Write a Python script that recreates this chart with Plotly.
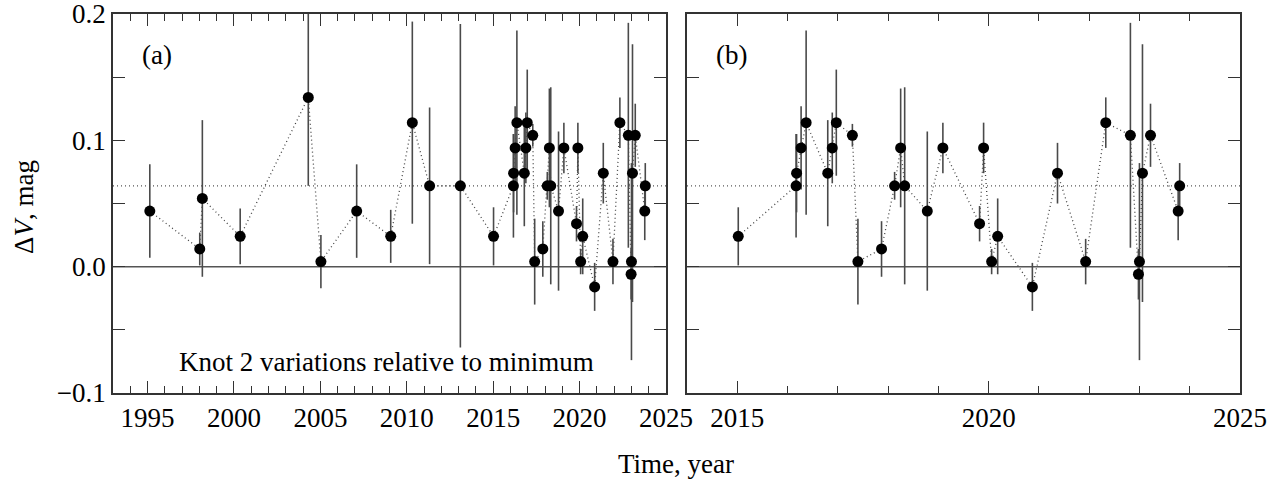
import numpy as np
import plotly.graph_objects as go
from plotly.subplots import make_subplots

# ---- data ----
years = [1995.13, 1998.02, 1998.17, 2000.36, 2004.30, 2005.03, 2007.10, 2009.07,
         2010.32, 2011.32, 2013.10, 2015.02, 2016.17, 2016.18, 2016.27, 2016.37,
         2016.80, 2016.89, 2016.97, 2017.29, 2017.40, 2017.87, 2018.13, 2018.25,
         2018.33, 2018.78, 2019.09, 2019.82, 2019.90, 2020.06, 2020.18, 2020.87,
         2021.37, 2021.93, 2022.33, 2022.82, 2022.98, 2023.00, 2023.06, 2023.22,
         2023.77, 2023.80]
dV = [0.044, 0.014, 0.054, 0.024, 0.134, 0.004, 0.044, 0.024, 0.114, 0.064,
      0.064, 0.024, 0.064, 0.074, 0.094, 0.114, 0.074, 0.094, 0.114, 0.104,
      0.004, 0.014, 0.064, 0.094, 0.064, 0.044, 0.094, 0.034, 0.094, 0.004,
      0.024, -0.016, 0.074, 0.004, 0.114, 0.104, -0.006, 0.004, 0.074, 0.104,
      0.044, 0.064]
dV_err = [0.037, 0.013, 0.062, 0.022, 0.070, 0.021, 0.037, 0.021, 0.080, 0.062,
          0.128, 0.023, 0.041, 0.031, 0.033, 0.073, 0.042, 0.028, 0.042, 0.009,
          0.034, 0.022, 0.011, 0.047, 0.078, 0.063, 0.020, 0.014, 0.020, 0.010,
          0.030, 0.019, 0.024, 0.018, 0.020, 0.089, 0.020, 0.078, 0.102, 0.025,
          0.023, 0.018]
mean_level = 0.064
panel_b_start = 2014.0

y_tickvals = [-0.1, -0.05, 0.0, 0.05, 0.1, 0.15, 0.2]
y_ticktext = ["\u22120.1", "", "0.0", "", "0.1", "", "0.2"]

FONT = "Liberation Serif, Times New Roman, serif"
FS = 27

years_arr = np.array(years)
dV_arr = np.array(dV)
err_arr = np.array(dV_err)
mask_b = years_arr >= panel_b_start

fig = make_subplots(rows=1, cols=2, horizontal_spacing=0.0186)

def add_series(x, y, e, col):
    fig.add_trace(go.Scatter(x=x, y=y, mode="lines",
                             line=dict(color="#444444", width=1.3, dash="1px,3px"),
                             hoverinfo="skip", showlegend=False), row=1, col=col)
    fig.add_trace(go.Scatter(x=x, y=y, mode="markers",
                             marker=dict(color="black", size=11),
                             error_y=dict(type="data", array=e, visible=True,
                                          color="#4a4a4a", thickness=1.6, width=0),
                             showlegend=False), row=1, col=col)

add_series(years_arr, dV_arr, err_arr, 1)
add_series(years_arr[mask_b], dV_arr[mask_b], err_arr[mask_b], 2)

axis_common = dict(showline=True, linecolor="#333333", linewidth=1.5, mirror="allticks",
                   ticks="inside", tickcolor="#333333", tickwidth=1.2,
                   showgrid=False, zeroline=False, automargin=False,
                   ticklabeloverflow="allow",
                   tickfont=dict(family=FONT, size=FS, color="black"))

fig.update_xaxes(**axis_common, ticklen=12, dtick=5, tick0=1995,
                 minor=dict(ticks="inside", ticklen=7, dtick=1, tick0=1995,
                            tickcolor="#333333", tickwidth=1.2, showgrid=False))
fig.update_xaxes(range=[1993.0, 2025.0], row=1, col=1)
fig.update_xaxes(range=[2014.0, 2025.0], row=1, col=2)

fig.update_yaxes(**axis_common, ticklen=12, range=[-0.1, 0.2],
                 tickvals=y_tickvals, ticktext=y_ticktext)
fig.update_yaxes(showticklabels=False, row=1, col=2)

# zero line and mean level
for xr, yr in (("x domain", "y"), ("x2 domain", "y2")):
    fig.add_shape(type="line", xref=xr, yref=yr, x0=0, x1=1, y0=0, y1=0,
                  line=dict(color="#555555", width=1.5), layer="below")
    fig.add_shape(type="line", xref=xr, yref=yr, x0=0, x1=1, y0=mean_level, y1=mean_level,
                  line=dict(color="#555555", width=1.2, dash="1px,3px"), layer="below")

ann_font = dict(family=FONT, size=FS, color="black")
fig.add_annotation(text="(a)", xref="x domain", yref="y domain", x=0.0796, y=0.892,
                   showarrow=False, font=ann_font, xanchor="center", yanchor="middle")
fig.add_annotation(text="(b)", xref="x2 domain", yref="y2 domain", x=0.0796, y=0.892,
                   showarrow=False, font=ann_font, xanchor="center", yanchor="middle")
fig.add_annotation(text="Knot 2 variations relative to minimum", xref="x domain", yref="y domain",
                   x=0.495, y=0.082, showarrow=False, font=ann_font,
                   xanchor="center", yanchor="middle")
fig.add_annotation(text="Time, year", xref="paper", yref="paper", x=0.4996, y=-0.187,
                   showarrow=False, font=ann_font, xanchor="center", yanchor="middle")
fig.add_annotation(text="\u0394<i>V</i>, mag", xref="paper", yref="paper", x=-0.079, y=0.491,
                   textangle=-90, showarrow=False, font=ann_font,
                   xanchor="center", yanchor="middle")

fig.update_layout(width=1267, height=484, margin=dict(l=113, r=27, t=14, b=91),
                  plot_bgcolor="white", paper_bgcolor="white",
                  font=dict(family=FONT, size=FS, color="black"))

fig.write_html("out.html")
